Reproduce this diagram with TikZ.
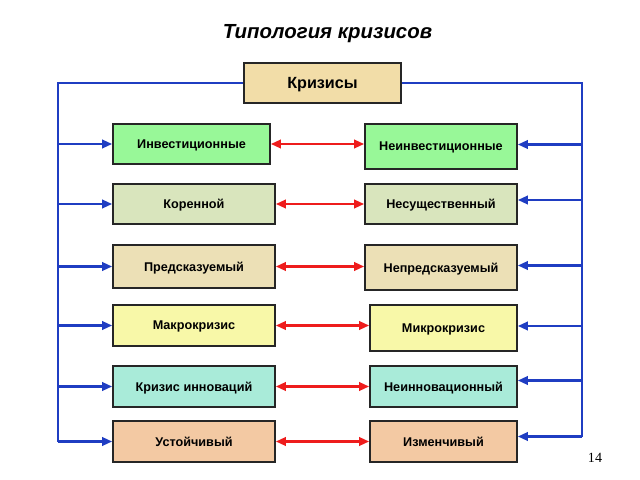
\documentclass[tikz,border=0pt]{standalone}
\usepackage{fontspec}
\setmainfont{Liberation Sans}
\newfontfamily\pagefont{Liberation Serif}
\usetikzlibrary{arrows.meta,calc}

\definecolor{busblue}{HTML}{1F3DC2}
\definecolor{linkred}{HTML}{EE1C1C}
\definecolor{cmain}{HTML}{F2DDA8}
\definecolor{cinv}{HTML}{98F898}
\definecolor{ckor}{HTML}{D9E5BD}
\definecolor{cpred}{HTML}{ECE0B6}
\definecolor{cmak}{HTML}{F8F8A8}
\definecolor{cinn}{HTML}{A9EBD9}
\definecolor{cust}{HTML}{F3C9A3}

\begin{document}
\begin{tikzpicture}[x=0.025cm, y=-0.025cm,
  box/.style={draw=black!85, line width=1.3pt, inner sep=0pt,
    text depth=0pt, font=\fontsize{9}{10}\selectfont\bfseries},
  sz/.style 2 args={minimum width=#1*0.025cm, minimum height=#2*0.025cm},
  bus/.style={draw=busblue, line width=1.5pt},
  link/.style={draw=linkred, line width=1.5pt,
    {Triangle[length=7pt,width=6pt]}-{Triangle[length=7pt,width=6pt]}},
  tip/.style={-{Triangle[length=7pt,width=6pt]}}]
\useasboundingbox (0,0) rectangle (640,480);

\node (title) at (327.5,34) {\fontsize{14.5}{17}\selectfont\bfseries\itshape Типология кризисов};

\node[box, sz={157}{40}, fill=cmain, font=\fontsize{11.5}{13}\selectfont\bfseries] (kr) at (322.5,83) {Кризисы};

\node[box, sz={157}{40}, fill=cinv] (l1) at (191.5,144) {Инвестиционные};
\node[box, sz={162}{40}, fill=ckor] (l2) at (194,204) {Коренной};
\node[box, sz={162}{43}, fill=cpred] (l3) at (194,266.5) {Предсказуемый};
\node[box, sz={162}{41}, fill=cmak] (l4) at (194,325.5) {Макрокризис};
\node[box, sz={162}{41}, fill=cinn] (l5) at (194,386.5) {Кризис инноваций};
\node[box, sz={162}{41}, fill=cust] (l6) at (194,441.5) {Устойчивый};

\node[box, sz={152}{45}, fill=cinv] (r1) at (441,146.5) {Неинвестиционные};
\node[box, sz={152}{40}, fill=ckor] (r2) at (441,204) {Несущественный};
\node[box, sz={152}{45}, fill=cpred] (r3) at (441,267.5) {Непредсказуемый};
\node[box, sz={147}{46}, fill=cmak] (r4) at (443.5,328) {Микрокризис};
\node[box, sz={147}{41}, fill=cinn] (r5) at (443.5,386.5) {Неинновационный};
\node[box, sz={147}{41}, fill=cust] (r6) at (443.5,441.5) {Изменчивый};

\node[font=\pagefont\fontsize{10}{12}\selectfont] (pg) at (595,458) {14};

\coordinate (lt) at (58,83);
\coordinate (rt) at (582,83);

\foreach \i/\d in {1/-2,2/-4,3/-2,4/-2,5/-6,6/-5}
  \coordinate (e\i) at ($(r\i.east)+(0,\d)$);

\draw[bus] (kr.west) -- (lt) -- (lt |- l6.west);
\draw[bus] (kr.east) -- (rt) -- (rt |- e6);

\foreach \i in {1,...,6}{
  \draw[bus, tip] (lt |- l\i.west) -- (l\i.west);
  \draw[bus, tip] (rt |- e\i) -- (e\i);
  \draw[link] (l\i.east) -- (l\i.east -| r\i.west);
}
\end{tikzpicture}
\end{document}
